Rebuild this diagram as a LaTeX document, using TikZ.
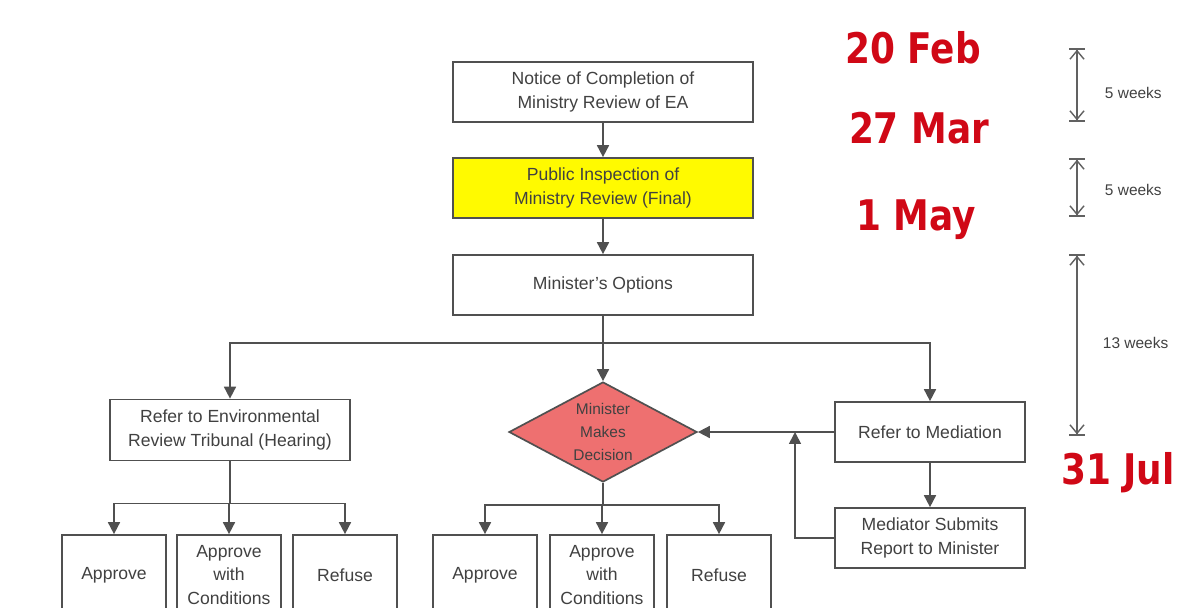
\documentclass[tikz,border=0pt]{standalone}
\usepackage{fontspec}
\setmainfont{Liberation Sans}
\newfontfamily\datefont[FakeStretch=0.85]{DejaVu Sans}
\usepackage{tikz}
\usetikzlibrary{arrows.meta, shapes.geometric, positioning}

\definecolor{linegray}{RGB}{80,80,80}
\definecolor{textgray}{RGB}{65,65,65}
\definecolor{hiyellow}{RGB}{255,250,0}
\definecolor{decpink}{RGB}{238,112,112}
\definecolor{datered}{RGB}{208,8,22}

\begin{document}
\begin{tikzpicture}[x=0.025cm, y=-0.025cm,
  box/.style={draw=linegray, line width=1.2pt, fill=white, text=textgray, align=center,
    inner sep=0pt, font=\fontsize{12.5}{17.5}\selectfont},
  widebox/.style={box, minimum width=7.5cm, minimum height=1.5cm},
  outcome/.style={box, minimum width=2.6cm, minimum height=2cm, font=\fontsize{12.5}{16.4}\selectfont},
  decide/.style={diamond, draw=linegray, line width=1.2pt, fill=decpink, text=textgray,
    align=center, inner sep=0pt, aspect=1.88, minimum width=4.7cm, minimum height=2.5cm,
    font=\fontsize{11}{16.5}\selectfont},
  flow/.style={draw=linegray, line width=1.2pt, -{Triangle[length=8.5pt,width=8.5pt]}},
  span/.style={draw=linegray!90, line width=1pt,
    {Bar[width=11pt,line width=1.2pt]Straight Barb[length=6pt,width=10pt]}-{Straight Barb[length=6pt,width=10pt]Bar[width=11pt,line width=1.2pt]}},
  datelbl/.style={text=datered, font=\datefont\bfseries\fontsize{30}{30}\selectfont},
  weeklbl/.style={text=textgray, anchor=west, font=\fontsize{11}{13}\selectfont}]

% Page frame
\useasboundingbox (0,0) rectangle (1186,607);
\clip (0,0) rectangle (1186,607);

% Main chain
\node[widebox] (notice) at (603,92) {Notice of Completion of\\Ministry Review of EA};
\node[widebox, fill=hiyellow] (inspect) at (603,188) {Public Inspection of\\Ministry Review (Final)};
\node[widebox] (options) at (603,285) {Minister's Options};

% Three options
\node[box, minimum width=6cm, minimum height=1.525cm] (tribunal) at (230,430)
  {Refer to Environmental\\Review Tribunal (Hearing)};
\node[decide] (decision) at (603,432) {Minister\\Makes\\Decision};
\node[box, minimum width=4.75cm, minimum height=1.5cm] (mediate) at (930,432) {Refer to Mediation};
\node[box, minimum width=4.75cm, minimum height=1.5cm] (report) at (930,538)
  {Mediator Submits\\Report to Minister};

% Outcomes of the hearing
\node[outcome] (tapprove) at (114,575) {Approve};
\node[outcome] (tcond) at (229,575) {Approve\\with\\Conditions};
\node[outcome] (trefuse) at (345,575) {Refuse};

% Outcomes of the decision
\node[outcome] (dapprove) at (485,575) {Approve};
\node[outcome] (dcond) at (602,575) {Approve\\with\\Conditions};
\node[outcome] (drefuse) at (719,575) {Refuse};

% Connectors
\draw[flow] (notice) -- (inspect);
\draw[flow] (inspect) -- (options);
\draw[flow] (options) -- (decision);
\draw[flow] (options.south) -- ++(0,27) -| (tribunal.north);
\draw[flow] (options.south) -- ++(0,27) -| (mediate.north);
\draw[flow] (mediate.west) -- (decision.east);
\draw[flow] (mediate) -- (report);
\coordinate (backjoin) at (795,432);
\draw[flow] (report.west) -| (backjoin);

\foreach \n in {tapprove, tcond, trefuse}
  \draw[flow] (tribunal.south) -- ++(0,42) -| (\n.north);
\foreach \n in {dapprove, dcond, drefuse}
  \draw[flow] (decision.south) -- ++(0,22) -| (\n.north);

% Dates
\node[datelbl] (feb) at (913,48) {20 Feb};
\node[datelbl] (mar) at (919,128) {27 Mar};
\node[datelbl] (may) at (916,220) {1 May};
\node[datelbl] (jul) at (1118,473) {31 Jul};

% Durations
\coordinate (s1) at (1077,48);
\coordinate (e1) at (1077,122);
\coordinate (s2) at (1077,158);
\coordinate (e2) at (1077,217);
\coordinate (s3) at (1077,254);
\coordinate (e3) at (1077,436);
\draw[span] (s1) -- (e1);
\draw[span] (s2) -- (e2);
\draw[span] (s3) -- (e3);
\node[weeklbl] (w1) at (1100,93) {5 weeks};
\node[weeklbl] (w2) at (1100,190) {5 weeks};
\node[weeklbl] (w3) at (1098,343) {13 weeks};

\end{tikzpicture}
\end{document}
